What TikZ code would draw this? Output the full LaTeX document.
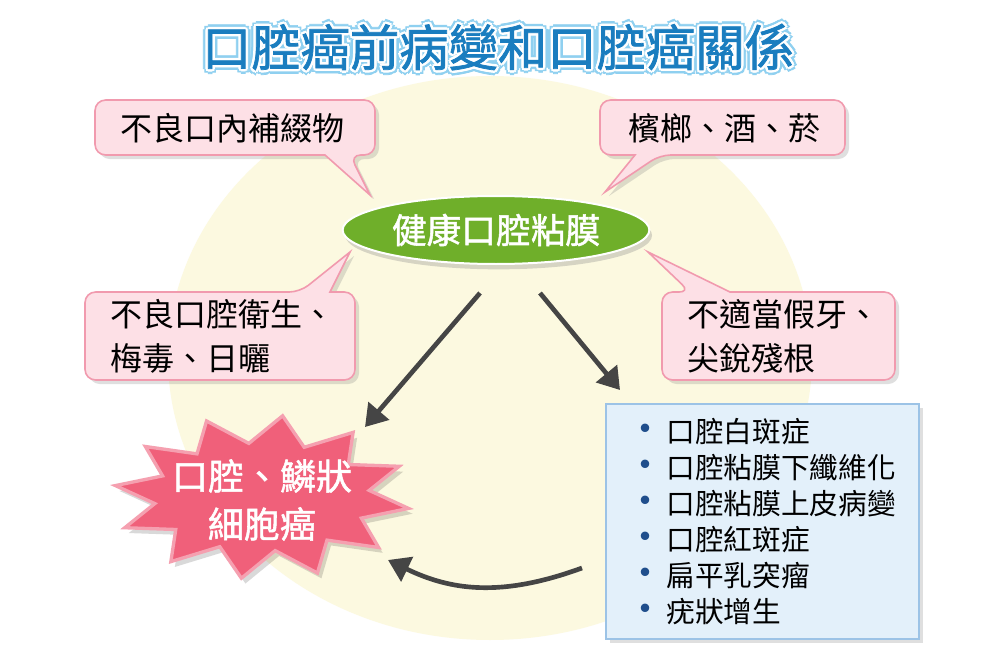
\documentclass[tikz,border=0pt]{standalone}
\usepackage{fontspec}
\setmainfont{Noto Sans CJK TC}
\newfontfamily\cjkb[FakeBold=1.5]{Noto Sans CJK TC}
\usetikzlibrary{shapes.geometric,arrows.meta,shadows}
\definecolor{bgc}{HTML}{FCF9E0}
\definecolor{pinkf}{HTML}{FDE0E6}
\definecolor{pinkd}{HTML}{F19AAE}
\definecolor{titleb}{HTML}{1A7DBF}
\definecolor{titlel}{HTML}{8FD0F0}
\definecolor{greenf}{HTML}{6FAF2A}
\definecolor{blued}{HTML}{9CC3E6}
\definecolor{bluef}{HTML}{E3F0FA}
\definecolor{starf}{HTML}{F0607A}
\definecolor{stard}{HTML}{F5A0B0}
\definecolor{arr}{HTML}{454545}
\definecolor{bul}{HTML}{1F4E8C}
\tikzset{
 x=0.75pt,y=-0.75pt,
 call/.style={fill=pinkf,draw=pinkd,line width=1.2pt,drop shadow={opacity=0.25,shadow xshift=3pt,shadow yshift=-3pt}},
 ctext/.style={font=\fontsize{24}{33}\selectfont,align=left,anchor=west,text=black},
 bar/.style={draw=arr,line width=3.5pt,-{Triangle[length=16pt,width=20pt]}},
 tfont/.style={font=\cjkb\fontsize{37}{40}\selectfont},
}
\newcommand{\bl}{{\color{bul}\fontsize{30}{27}\selectfont\raisebox{-1pt}{\textbullet}}\hspace{1pt}}
\begin{document}
\begin{tikzpicture}
\useasboundingbox (0,0) rectangle (1000,667);
\fill[white] (0,0) rectangle (1000,667);
\fill[bgc] (490,358) ellipse [x radius=322, y radius=282];
% title
\foreach \dx/\dy in {-5/0,5/0,0/-5,0/5,-3.5/-3.5,3.5/3.5,-3.5/3.5,3.5/-3.5}
 \node[text=titlel,tfont] at (498+\dx,47+\dy) {口腔癌前病變和口腔癌關係};
\foreach \dx/\dy in {-2.5/0,2.5/0,0/-2.5,0/2.5,-1.8/-1.8,1.8/1.8,-1.8/1.8,1.8/-1.8}
 \node[text=white,tfont] at (498+\dx,47+\dy) {口腔癌前病變和口腔癌關係};
\node[text=titleb,tfont] (title) at (498,47) {口腔癌前病變和口腔癌關係};
% callouts
\draw[call,rounded corners=8pt] (95,100) -- (375,100) -- (375,155) -- (350,155) [sharp corners]-- (370,195) -- (325,155) [rounded corners=8pt]-- (95,155) -- cycle;
\node[ctext] (c1) at (116,128) {不良口內補綴物};
\draw[call,rounded corners=8pt] (600,100) -- (845,100) -- (845,155) -- (660,155) [sharp corners]-- (605,192) -- (635,155) [rounded corners=8pt]-- (600,155) -- cycle;
\node[ctext] (c2) at (624,128) {檳榔、酒、菸};
\draw[call,rounded corners=8pt] (85,292) -- (300,292) [sharp corners]-- (350,252) -- (330,292) [rounded corners=8pt]-- (355,292) -- (355,380) -- (85,380) -- cycle;
\node[ctext] (c3) at (106,336) {不良口腔衛生、\\梅毒、日曬};
\draw[call,rounded corners=8pt] (662,292) -- (690,292) [sharp corners]-- (648,252) -- (730,292) [rounded corners=8pt]-- (895,292) -- (895,380) -- (662,380) -- cycle;
\node[ctext] (c4) at (683,336) {不適當假牙、\\尖銳殘根};
% green ellipse
\node[ellipse,minimum width=290*0.75pt,minimum height=68*0.75pt,fill=greenf,draw=white,line width=1.5pt,
 drop shadow={opacity=0.3,shadow xshift=2pt,shadow yshift=-4pt},text=white,font=\cjkb\fontsize{26}{30}\selectfont] (g) at (496,230) {健康口腔粘膜};
% blue box
\node[draw=blued,fill=bluef,line width=1.2pt,minimum width=313*0.75pt,minimum height=235*0.75pt,anchor=north west,
 drop shadow={opacity=0.25,shadow xshift=3pt,shadow yshift=-3pt}] (b) at (605,403) {};
\node[anchor=north west,align=left,text=black,font=\fontsize{21.5}{27}\selectfont,inner sep=0pt] (bt) at (625,418)
 {\bl 口腔白斑症\\\bl 口腔粘膜下纖維化\\\bl 口腔粘膜上皮病變\\\bl 口腔紅斑症\\\bl 扁平乳突瘤\\\bl 疣狀增生};
% star
\def\starpath{plot[samples at={0,15,...,345}] ({262+(mod(\x,30)==0 ? 148 : 108)*cos(\x+8)}, {497+(mod(\x,30)==0 ? 82 : 54)*sin(\x+8)}) -- cycle}
\fill[black,opacity=0.15,xshift=3pt,yshift=-4pt] \starpath;
\filldraw[fill=starf,draw=stard,line width=2.5pt,line join=miter] \starpath;
\node[text=white,font=\cjkb\fontsize{27}{36}\selectfont,align=center] (s) at (262,500) {口腔、鱗狀\\細胞癌};
% arrows
\draw[bar] (480,293) -- (365,427);
\draw[bar] (540,293) -- (620,390);
\draw[bar] (582,568) .. controls (500,598) and (450,590) .. (388,560);
\end{tikzpicture}
\end{document}
